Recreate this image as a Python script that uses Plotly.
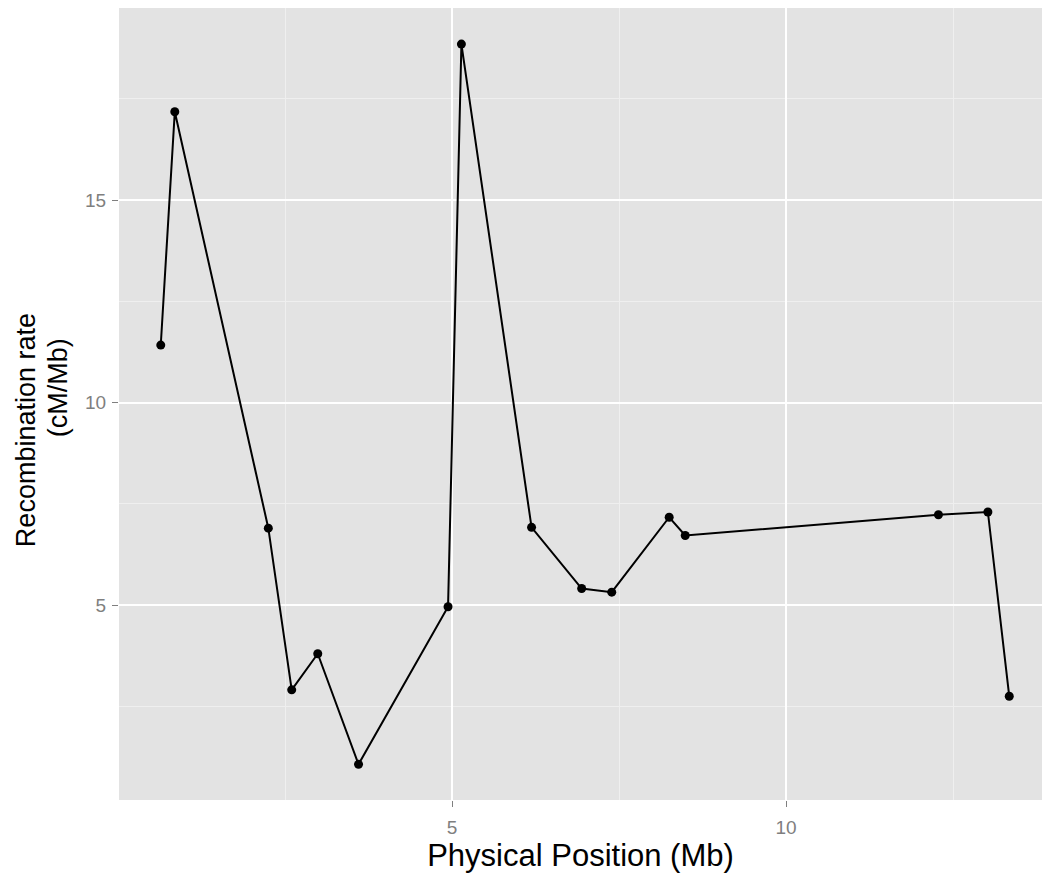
import plotly.graph_objects as go

position_mb = [0.64, 0.85, 2.25, 2.60, 2.99, 3.60, 4.94, 5.14, 6.19, 6.94, 7.39, 8.25, 8.49, 12.28, 13.02, 13.34]
recomb_rate = [11.42, 17.18, 6.90, 2.91, 3.80, 1.07, 4.96, 18.85, 6.92, 5.41, 5.32, 7.17, 6.72, 7.23, 7.30, 2.75]

x_ticks = [5, 10]
y_ticks = [5, 10, 15]
y_title_lines = ["Recombination rate", "(cM/Mb)"]

fig = go.Figure()
fig.add_trace(go.Scatter(
    x=position_mb, y=recomb_rate, mode="lines+markers",
    line=dict(color="black", width=2),
    marker=dict(color="black", size=9),
    showlegend=False,
))

axis_common = dict(
    showgrid=True, gridcolor="white", gridwidth=1.6,
    zeroline=False, showline=False,
    ticks="outside", ticklen=6, tickcolor="#7f7f7f", tickwidth=1.2,
    tickfont=dict(family="Liberation Sans, Arial", size=19, color="#7f7f7f"),
    minor=dict(showgrid=True, gridcolor="#EFEFEF", gridwidth=0.8, dtick=2.5, tick0=0),
)

fig.update_layout(
    width=1042, height=876,
    margin=dict(l=119, r=0, t=8, b=76),
    paper_bgcolor="white", plot_bgcolor="#E3E3E3",
    font=dict(family="Liberation Sans, Arial", color="black"),
    xaxis=dict(range=[0.015, 13.83], tickvals=x_ticks, ticktext=[str(v) for v in x_ticks],
               ticklabelstandoff=4,
               title=dict(text="Physical Position (Mb)", font=dict(size=31, color="black"), standoff=2),
               **axis_common),
    yaxis=dict(range=[0.19, 19.74], tickvals=y_ticks, ticktext=[str(v) for v in y_ticks],
               ticklabelstandoff=2,
               **axis_common),
)

# y-axis title as two rotated lines (as positioned in the reference)
for text, xs, yp in zip(y_title_lines, [-93, -61], [0.467, 0.520]):
    fig.add_annotation(text=text, xref="paper", yref="paper", x=0, y=yp, xshift=xs,
                       textangle=-90, showarrow=False, xanchor="center", yanchor="middle",
                       font=dict(size=27, color="black", family="Liberation Sans, Arial"))

fig.write_html("out.html")
